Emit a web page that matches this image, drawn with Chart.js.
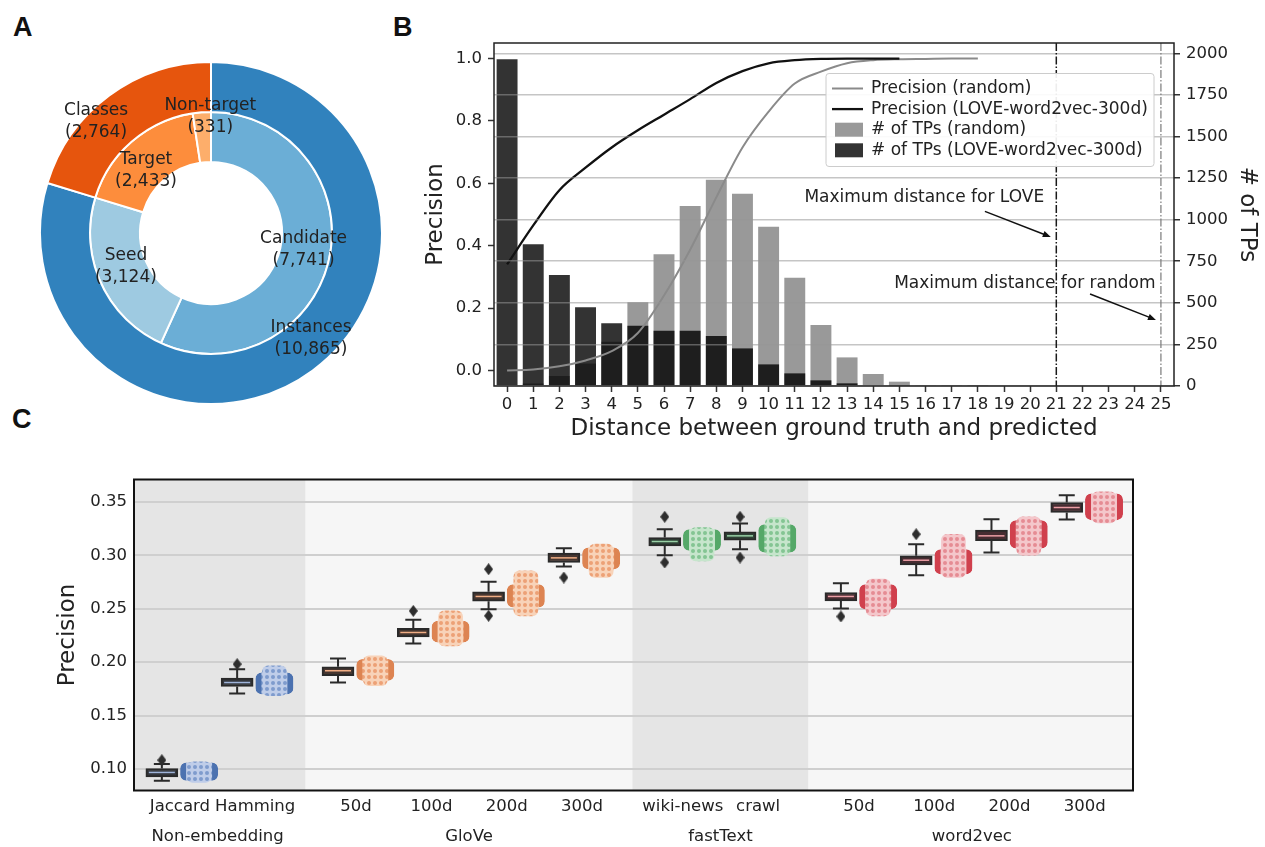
<!DOCTYPE html>
<html><head><meta charset="utf-8">
<script src="https://cdn.jsdelivr.net/npm/chart.js@4.4.1/dist/chart.umd.min.js"></script>
<style>
html,body{margin:0;padding:0;background:#fff;width:1265px;height:847px;overflow:hidden;position:relative;}
canvas{position:absolute;}
.panel{position:absolute;font:bold 27px "Liberation Sans",Arial,sans-serif;line-height:1;color:#111;}
</style></head><body>
<div class="panel" style="left:13px;top:14px">A</div>
<div class="panel" style="left:393px;top:14px">B</div>
<div class="panel" style="left:12px;top:406px">C</div>
<canvas id="cA" width="344" height="344" style="left:39px;top:61px"></canvas>
<canvas id="cB" width="865" height="450" style="left:400px;top:0px"></canvas>
<canvas id="cC" width="1265" height="407" style="left:0px;top:440px"></canvas>
<script>
// ---------------- Panel A data ----------------
const outerLabels = ['Instances', 'Classes'];
const outerValues = [10865, 2764];
const innerLabels = ['Candidate', 'Seed', 'Target', 'Non-target'];
const innerValues = [7741, 3124, 2433, 331];

// ---------------- Panel B data ----------------
const distances = ['0','1','2','3','4','5','6','7','8','9','10','11','12','13','14','15','16','17','18','19','20','21','22','23','24','25'];
const precisionRandom = [0.0, 0.003, 0.013, 0.032, 0.062, 0.12, 0.24, 0.387, 0.555, 0.715, 0.83, 0.92, 0.958, 0.985, 0.995, 0.998, 0.999, 1.0, 1.0];
const precisionLove = [0.34, 0.465, 0.578, 0.65, 0.715, 0.77, 0.82, 0.87, 0.922, 0.96, 0.985, 0.995, 0.999, 1.0, 1.0, 1.0];
const tpsRandom = [4, 15, 60, 135, 266, 503, 792, 1082, 1240, 1155, 957, 651, 366, 172, 72, 26, 6, 2, 1, 0, 0, 0, 0, 0, 0, 0];
const tpsLove = [1964, 852, 667, 473, 377, 362, 332, 332, 300, 226, 130, 76, 34, 16, 4, 1, 0, 0, 0, 0, 0, 0, 0, 0, 0, 0];
const precisionTicks = [0.0, 0.2, 0.4, 0.6, 0.8, 1.0];
const tpsTicks = [0, 250, 500, 750, 1000, 1250, 1500, 1750, 2000];
const maxDistances = [21, 25];
const maxDistanceTexts = ['Maximum distance for LOVE', 'Maximum distance for random'];

// ---------------- Panel C data ----------------
const groups = ['Non-embedding', 'GloVe', 'fastText', 'word2vec'];
const methods = ['Jaccard', 'Hamming', '50d', '100d', '200d', '300d', 'wiki-news', 'crawl', '50d', '100d', '200d', '300d'];
const methodGroup = [0, 0, 1, 1, 1, 1, 2, 2, 3, 3, 3, 3];
const boxQ1 =     [0.0928, 0.1773, 0.1873, 0.2237, 0.2571, 0.2933, 0.3088, 0.3141, 0.2574, 0.2911, 0.3136, 0.3400];
const boxMedian = [0.0969, 0.1810, 0.1920, 0.2278, 0.2615, 0.2976, 0.3129, 0.3182, 0.2615, 0.2954, 0.3182, 0.3447];
const boxQ3 =     [0.1006, 0.1851, 0.1957, 0.2318, 0.2658, 0.3020, 0.3166, 0.3219, 0.2652, 0.2995, 0.3235, 0.3494];
const whiskerLow =  [0.0891, 0.1708, 0.1810, 0.2175, 0.2496, 0.2895, 0.3001, 0.3057, 0.2502, 0.2814, 0.3027, 0.3335];
const whiskerHigh = [0.1047, 0.1935, 0.2035, 0.2396, 0.2752, 0.3067, 0.3244, 0.3297, 0.2739, 0.3104, 0.3338, 0.3562];
const outliers = [[0.1084], [0.1982], [], [0.2480], [0.2870, 0.2434], [0.2792], [0.3360, 0.2933], [0.3360, 0.2979], [0.2428], [0.3197], [], []];
const swarmLow =  [0.0875, 0.1686, 0.1780, 0.2153, 0.2434, 0.2792, 0.2948, 0.2995, 0.2434, 0.2792, 0.3002, 0.3304];
const swarmHigh = [0.1069, 0.1966, 0.2060, 0.2480, 0.2855, 0.3104, 0.3260, 0.3353, 0.2777, 0.3197, 0.3360, 0.3593];
const swarmEdgeLow =  [0.0891, 0.1701, 0.1826, 0.2184, 0.2512, 0.2870, 0.3042, 0.3026, 0.2496, 0.2823, 0.3064, 0.3329];
const swarmEdgeHigh = [0.1062, 0.1904, 0.2029, 0.2387, 0.2730, 0.3073, 0.3244, 0.3291, 0.2730, 0.3057, 0.3329, 0.3578];
const precisionTicksC = [0.10, 0.15, 0.20, 0.25, 0.30, 0.35];

// ---------------- common ----------------
Chart.defaults.font.family = "'DejaVu Sans', 'Noto Sans', sans-serif";
Chart.defaults.color = '#222';
Chart.defaults.animation = false;
Chart.defaults.plugins.legend.display = false;
Chart.defaults.plugins.tooltip.enabled = false;

// ---------------- Panel A ----------------
const donutLabelPlugin = {
  id: 'donutLabels',
  afterDatasetsDraw(chart, args, opts) {
    const ctx = chart.ctx;
    const outerR = chart.getDatasetMeta(0).data[0].outerRadius;
    const names = [outerLabels, innerLabels];
    ctx.save();
    ctx.font = opts.font; ctx.fillStyle = opts.color;
    ctx.textAlign = 'center'; ctx.textBaseline = 'middle';
    chart.data.datasets.forEach((ds, di) => {
      chart.getDatasetMeta(di).data.forEach((arc, i) => {
        const pl = opts.placement[di][i];
        const a = (arc.startAngle + arc.endAngle) / 2 + pl[1] * Math.PI / 180;
        const x = arc.x + pl[0] * outerR * Math.cos(a);
        const y = arc.y + pl[0] * outerR * Math.sin(a);
        ctx.fillText(names[di][i], x, y - opts.lineGap / 2);
        ctx.fillText('(' + ds.data[i].toLocaleString('en-US') + ')', x, y + opts.lineGap / 2);
      });
    });
    ctx.restore();
  }
};
new Chart(document.getElementById('cA'), {
  type: 'doughnut',
  data: {
    labels: outerLabels,
    datasets: [
      { data: outerValues, backgroundColor: ['#3182bd', '#e6550d'], borderColor: '#ffffff', borderWidth: 2, hoverBorderWidth: 2 },
      { data: innerValues, backgroundColor: ['#6baed6', '#9ecae1', '#fd8d3c', '#fdae6b'], borderColor: '#ffffff', borderWidth: 2, hoverBorderWidth: 2 }
    ]
  },
  options: {
    responsive: false, devicePixelRatio: 1, cutout: '41.5%',
    layout: { padding: 0 },
    plugins: {
      donutLabels: {
        font: "17px 'DejaVu Sans'", color: '#222', lineGap: 22.5,
        placement: [
          [[0.851, -6.9], [0.936, -9.4]],
          [[0.55, -2], [0.535, 2.7], [0.527, -5.3], [0.68, 4.0]]
        ]
      }
    }
  },
  plugins: [donutLabelPlugin]
});

// ---------------- Panel B ----------------
function arrow(ctx, x1, y1, x2, y2) {
  const ang = Math.atan2(y2 - y1, x2 - x1), L = 8, W = 3.2;
  ctx.beginPath(); ctx.moveTo(x1, y1); ctx.lineTo(x2 - L * 0.6 * Math.cos(ang), y2 - L * 0.6 * Math.sin(ang)); ctx.stroke();
  ctx.beginPath();
  ctx.moveTo(x2, y2);
  ctx.lineTo(x2 - L * Math.cos(ang) + W * Math.sin(ang), y2 - L * Math.sin(ang) - W * Math.cos(ang));
  ctx.lineTo(x2 - L * Math.cos(ang) - W * Math.sin(ang), y2 - L * Math.sin(ang) + W * Math.cos(ang));
  ctx.closePath(); ctx.fill();
}
const bOverlay = {
  id: 'bOverlay',
  afterDraw(chart, args, o) {
    const { ctx, chartArea: ca, scales: { x, y } } = chart;
    ctx.save();
    maxDistances.forEach((d, i) => {
      const px = x.getPixelForValue(d);
      ctx.strokeStyle = o.vColors[i]; ctx.lineWidth = o.vWidths[i]; ctx.setLineDash(o.vDash);
      ctx.beginPath(); ctx.moveTo(px, ca.top); ctx.lineTo(px, ca.bottom); ctx.stroke();
    });
    ctx.setLineDash([]);
    ctx.font = o.font; ctx.strokeStyle = '#111'; ctx.lineWidth = 1.5;
    ctx.textAlign = 'left'; ctx.textBaseline = 'middle';
    o.annotations.forEach((a, i) => {
      ctx.fillStyle = '#222';
      ctx.fillText(maxDistanceTexts[i], x.getPixelForValue(a.text[0]), y.getPixelForValue(a.text[1]));
      ctx.fillStyle = '#111';
      arrow(ctx, x.getPixelForValue(a.tail[0]), y.getPixelForValue(a.tail[1]), x.getPixelForValue(a.head[0]), y.getPixelForValue(a.head[1]));
    });
    ctx.strokeStyle = '#222'; ctx.lineWidth = 1.5;
    ctx.strokeRect(ca.left, ca.top, ca.right - ca.left, ca.bottom - ca.top);
    const w = 328, h = 93, left = ca.right - 20 - w, top = ca.top + 30.5;
    ctx.fillStyle = 'rgba(255,255,255,0.92)'; ctx.strokeStyle = '#cccccc'; ctx.lineWidth = 1;
    ctx.beginPath(); ctx.roundRect(left, top, w, h, 3); ctx.fill(); ctx.stroke();
    ctx.font = o.font; ctx.textBaseline = 'middle';
    chart.data.datasets.forEach((ds, i) => {
      const yy = top + 15 + i * 20.6;
      if (ds.type === 'line') {
        ctx.strokeStyle = ds.borderColor; ctx.lineWidth = ds.borderWidth;
        ctx.beginPath(); ctx.moveTo(left + 6, yy); ctx.lineTo(left + 37, yy); ctx.stroke();
      } else {
        ctx.fillStyle = ds.backgroundColor; ctx.fillRect(left + 9, yy - 7, 28, 14);
      }
      ctx.fillStyle = '#222'; ctx.fillText(ds.label, left + 45, yy);
    });
    ctx.restore();
  }
};
const tickFontB = { size: 16.5 };
const titleFontB = { size: 23 };
new Chart(document.getElementById('cB'), {
  type: 'bar',
  data: {
    labels: distances,
    datasets: [
      { type: 'line', label: 'Precision (random)', data: precisionRandom, yAxisID: 'y', borderColor: '#8a8a8a', borderWidth: 2, pointRadius: 0, cubicInterpolationMode: 'monotone', order: 1 },
      { type: 'line', label: 'Precision (LOVE-word2vec-300d)', data: precisionLove, yAxisID: 'y', borderColor: '#111111', borderWidth: 2.3, pointRadius: 0, cubicInterpolationMode: 'monotone', order: 0 },
      { type: 'bar', label: '# of TPs (random)', data: tpsRandom, yAxisID: 'y2', backgroundColor: 'rgba(128,128,128,0.8)', grouped: false, barPercentage: 0.8, categoryPercentage: 1.0, order: 3 },
      { type: 'bar', label: '# of TPs (LOVE-word2vec-300d)', data: tpsLove, yAxisID: 'y2', backgroundColor: 'rgba(0,0,0,0.8)', grouped: false, barPercentage: 0.8, categoryPercentage: 1.0, order: 2 }
    ]
  },
  options: {
    responsive: false, devicePixelRatio: 1,
    layout: { padding: { top: 43, left: 0, right: 0, bottom: 0 } },
    scales: {
      x: {
        type: 'category', offset: true,
        grid: { offset: false, drawOnChartArea: false, tickLength: 6, tickColor: '#333', tickWidth: 1.5 },
        border: { display: false },
        ticks: { font: tickFontB, color: '#222', padding: 3, autoSkip: false, maxRotation: 0 },
        title: { display: true, text: 'Distance between ground truth and predicted', font: titleFontB, color: '#222', padding: { top: 0, bottom: 7 } },
        afterFit(s) { s.height = 64; }
      },
      y: {
        type: 'linear', position: 'left', min: -0.05, max: 1.05,
        afterBuildTicks(s) { s.ticks = precisionTicks.map(v => ({ value: v })); },
        grid: { drawOnChartArea: false, tickLength: 6, tickColor: '#333', tickWidth: 1.5 },
        border: { display: false },
        ticks: { font: tickFontB, color: '#222', padding: 6, callback: v => v.toFixed(1) },
        title: { display: true, text: 'Precision', font: titleFontB, color: '#222', padding: { top: 22, bottom: 0 } },
        afterFit(s) { s.width = 94; }
      },
      y2: {
        type: 'linear', position: 'right', min: 0, max: 2062,
        afterBuildTicks(s) { s.ticks = tpsTicks.map(v => ({ value: v })); },
        grid: { drawOnChartArea: true, color: 'rgba(150,150,150,0.55)', lineWidth: 1.5, z: 1, tickLength: 6, tickColor: '#333', tickWidth: 1.5 },
        border: { display: false },
        ticks: { font: tickFontB, color: '#222', padding: 6, callback: v => String(v) },
        title: { display: true, text: '# of TPs', font: titleFontB, color: '#222', padding: { top: 4.5, bottom: 0 } },
        afterFit(s) { s.width = 91; }
      }
    },
    plugins: {
      bOverlay: {
        font: "17px 'DejaVu Sans'",
        vColors: ['#1a1a1a', '#7a7a7a'], vWidths: [1.5, 1.2], vDash: [8, 2, 1.5, 2],
        annotations: [
          { text: [11.37, 0.554], tail: [18.27, 0.510], head: [20.79, 0.428] },
          { text: [14.80, 0.277], tail: [22.29, 0.245], head: [24.81, 0.162] }
        ]
      }
    }
  },
  plugins: [bOverlay]
});

// ---------------- Panel C ----------------
const GROUP_GAP = 0.34, BOX_OFF = -0.24, SWARM_OFF = 0.255;
const catX = methods.map((m, i) => i + methodGroup[i] * GROUP_GAP);
const groupStyle = [
  { boxFill: '#34373d', median: '#9fb4da', edge: '#4c72b0', bg: '#bfcde9', dot: '#7f9bcd' },
  { boxFill: '#463630', median: '#f0ad84', edge: '#dd8452', bg: '#f8d3b9', dot: '#eda176' },
  { boxFill: '#2f4236', median: '#98d0a5', edge: '#55a868', bg: '#c6e5cc', dot: '#84c593' },
  { boxFill: '#462c31', median: '#ec9ea5', edge: '#d0404d', bg: '#f4c7cb', dot: '#e58c94' }
];
function dotPattern(bg, dot) {
  const c = document.createElement('canvas'); c.width = 6; c.height = 6;
  const g = c.getContext('2d');
  g.fillStyle = bg; g.fillRect(0, 0, 6, 6);
  g.fillStyle = dot; g.beginPath(); g.arc(3, 3, 2, 0, Math.PI * 2); g.fill();
  return g.createPattern(c, 'repeat');
}
function diamondMarker(color) {
  const c = document.createElement('canvas'); c.width = 9; c.height = 12;
  const g = c.getContext('2d');
  g.fillStyle = color; g.beginPath();
  g.moveTo(4.5, 0); g.lineTo(9, 6); g.lineTo(4.5, 12); g.lineTo(0, 6); g.closePath(); g.fill();
  return c;
}
const patterns = groupStyle.map(s => dotPattern(s.bg, s.dot));
const bandColors = ['#e5e5e5', '#f6f6f6', '#e5e5e5', '#f6f6f6'];

const cPlugin = {
  id: 'cBox',
  beforeDraw(chart) {
    const { ctx, chartArea: ca, scales: { x } } = chart;
    ctx.save();
    groups.forEach((g, gi) => {
      const idx = methodGroup.map((m, i) => m === gi ? i : -1).filter(i => i >= 0);
      const first = idx[0], last = idx[idx.length - 1];
      const l = gi === 0 ? ca.left : x.getPixelForValue((catX[first - 1] + catX[first]) / 2);
      const r = gi === groups.length - 1 ? ca.right : x.getPixelForValue((catX[last] + catX[last + 1]) / 2);
      ctx.fillStyle = bandColors[gi];
      ctx.fillRect(l, ca.top, r - l, ca.bottom - ca.top);
    });
    ctx.restore();
  },
  beforeDatasetsDraw(chart) {
    const { ctx, scales: { x, y } } = chart;
    ctx.save();
    ctx.strokeStyle = '#2a2a2a'; ctx.lineWidth = 2;
    methods.forEach((m, i) => {
      const px = x.getPixelForValue(catX[i] + BOX_OFF);
      ctx.beginPath();
      ctx.moveTo(px, y.getPixelForValue(whiskerLow[i])); ctx.lineTo(px, y.getPixelForValue(boxQ1[i]));
      ctx.moveTo(px, y.getPixelForValue(boxQ3[i])); ctx.lineTo(px, y.getPixelForValue(whiskerHigh[i]));
      ctx.moveTo(px - 8, y.getPixelForValue(whiskerLow[i])); ctx.lineTo(px + 8, y.getPixelForValue(whiskerLow[i]));
      ctx.moveTo(px - 8, y.getPixelForValue(whiskerHigh[i])); ctx.lineTo(px + 8, y.getPixelForValue(whiskerHigh[i]));
      ctx.stroke();
    });
    ctx.restore();
  },
  afterDatasetsDraw(chart) {
    const { ctx, scales: { x, y } } = chart;
    ctx.save();
    ctx.lineWidth = 1.5;
    methods.forEach((m, i) => {
      const px = x.getPixelForValue(catX[i] + BOX_OFF);
      const py = y.getPixelForValue(boxMedian[i]);
      ctx.strokeStyle = groupStyle[methodGroup[i]].median;
      ctx.beginPath(); ctx.moveTo(px - 13, py); ctx.lineTo(px + 13, py); ctx.stroke();
    });
    ctx.restore();
  },
  afterDraw(chart) {
    const { ctx, chartArea: ca, scales: { x } } = chart;
    ctx.save();
    ctx.strokeStyle = '#111'; ctx.lineWidth = 2;
    ctx.strokeRect(ca.left, ca.top, ca.right - ca.left, ca.bottom - ca.top);
    ctx.font = "16.5px 'DejaVu Sans'"; ctx.fillStyle = '#222';
    ctx.textAlign = 'center'; ctx.textBaseline = 'middle';
    groups.forEach((g, gi) => {
      const px = methodGroup.map((mg, i) => mg === gi ? x.getPixelForValue(catX[i]) : null).filter(v => v !== null);
      const cxp = (Math.min(...px) + Math.max(...px)) / 2;
      ctx.fillText(g, cxp, ca.bottom + 46.2);
    });
    ctx.restore();
  }
};

new Chart(document.getElementById('cC'), {
  type: 'bar',
  data: {
    datasets: [
      { type: 'scatter', label: 'outliers', order: 0,
        data: outliers.flatMap((arr, i) => arr.map(v => ({ x: catX[i] + BOX_OFF, y: v }))),
        pointStyle: diamondMarker('#2e2e2e'), pointRadius: 5 },
      { label: 'box', order: 1,
        data: methods.map((m, i) => ({ x: catX[i] + BOX_OFF, y: [boxQ1[i], boxQ3[i]] })),
        backgroundColor: methodGroup.map(g => groupStyle[g].boxFill), borderColor: '#2a2a2a', borderWidth: 2,
        borderSkipped: false, grouped: false, barPercentage: 1, categoryPercentage: 1, maxBarThickness: 32 },
      { label: 'swarm core', order: 2,
        data: methods.map((m, i) => ({ x: catX[i] + SWARM_OFF, y: [swarmLow[i], swarmHigh[i]] })),
        backgroundColor: methodGroup.map(g => patterns[g]), borderWidth: 0, borderRadius: 6,
        borderSkipped: false, grouped: false, barPercentage: 1, categoryPercentage: 1, maxBarThickness: 24 },
      { label: 'swarm body', order: 3,
        data: methods.map((m, i) => ({ x: catX[i] + SWARM_OFF, y: [swarmEdgeLow[i], swarmEdgeHigh[i]] })),
        backgroundColor: methodGroup.map(g => patterns[g]), borderColor: methodGroup.map(g => groupStyle[g].edge),
        borderWidth: { left: 6, right: 6, top: 0, bottom: 0 }, borderRadius: 6,
        borderSkipped: false, grouped: false, barPercentage: 1, categoryPercentage: 1, maxBarThickness: 38 }
    ]
  },
  options: {
    responsive: false, devicePixelRatio: 1,
    layout: { padding: { top: 39.5, right: 132, left: 0, bottom: 0 } },
    scales: {
      x: {
        type: 'linear', offset: false, min: catX[0] - 0.61, max: catX[catX.length - 1] + 0.64,
        afterBuildTicks(s) { s.ticks = catX.map(v => ({ value: v })); },
        grid: { display: false, drawTicks: false },
        border: { display: false },
        ticks: { font: { size: 16.5 }, color: '#222', padding: 6.3, autoSkip: false, maxRotation: 0, callback: (v, i) => methods[i] },
        afterFit(s) { s.height = 56.5; }
      },
      y: {
        type: 'linear', min: 0.0800, max: 0.3709,
        afterBuildTicks(s) { s.ticks = precisionTicksC.map(v => ({ value: v })); },
        grid: { color: '#cfcfcf', lineWidth: 2, drawTicks: false },
        border: { display: false },
        ticks: { font: { size: 16.5 }, color: '#222', padding: 7, callback: v => v.toFixed(2) },
        title: { display: true, text: 'Precision', font: { size: 23 }, color: '#222', padding: { top: 54, bottom: 0 } },
        afterFit(s) { s.width = 134; }
      }
    }
  },
  plugins: [cPlugin]
});
</script>
</body></html>
